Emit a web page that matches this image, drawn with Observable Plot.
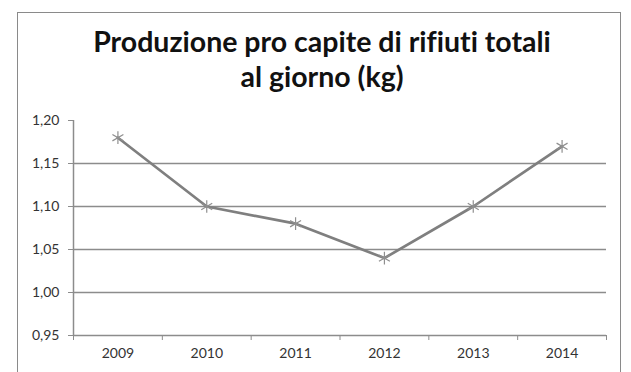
<!DOCTYPE html>
<html>
<head>
<meta charset="utf-8">
<script src="https://cdn.jsdelivr.net/npm/d3@7"></script>
<script src="https://cdn.jsdelivr.net/npm/@observablehq/plot@0.6"></script>
<style>
  html, body { margin: 0; padding: 0; background: #fff; }
  #wrap { position: relative; width: 631px; height: 372px; overflow: hidden; background: #fff; }
  #frame { position: absolute; left: 17px; top: 12px; width: 604px; height: 400px;
           border: 1px solid #8a8a8a; border-bottom: none; box-sizing: border-box; }
  #title { position: absolute; left: 0; top: 24px; width: 644px; text-align: center;
           font-family: Lato, "Open Sans", sans-serif; font-weight: 700; font-size: 28.5px;
           line-height: 35px; color: #111; font-variant-ligatures: none; }
  #chart { position: absolute; left: 0; top: 100px; }
</style>
</head>
<body>
<div id="wrap">
  <div id="frame"></div>
  <div id="title">Produzione pro capite di rifiuti totali<br>al giorno (kg)</div>
  <div id="chart"></div>
</div>
<script>
const years = [2009, 2010, 2011, 2012, 2013, 2014];
const values = [1.18, 1.10, 1.08, 1.04, 1.10, 1.17];
const yTicks = [0.95, 1.00, 1.05, 1.10, 1.15, 1.20];
const gridTicks = [1.00, 1.05, 1.10, 1.15];
const bandEdges = [2008.5, 2009.5, 2010.5, 2011.5, 2012.5, 2013.5, 2014.5];

const data = years.map((y, i) => ({year: y, value: values[i]}));
const fmt = d => d.toFixed(2).replace(".", ",");

const chart = Plot.plot({
  width: 631,
  height: 272,
  marginLeft: 73,
  marginRight: 25,
  marginTop: 20,
  marginBottom: 37,
  style: {fontFamily: "Lato, 'Open Sans', sans-serif", fontSize: "14px", color: "#333", background: "transparent"},
  x: {domain: [2008.5, 2014.5]},
  y: {domain: [0.95, 1.20]},
  marks: [
    Plot.gridY(gridTicks, {stroke: "#8c8c8c", strokeOpacity: 1, strokeWidth: 1.5}),
    Plot.ruleY([0.95], {stroke: "#8c8c8c", strokeWidth: 1.5}),
    Plot.ruleX([2008.5], {stroke: "#8c8c8c", strokeWidth: 1.5}),
    Plot.axisY({ticks: yTicks, tickFormat: fmt, tickSize: 5, tickPadding: 9, stroke: "#8c8c8c", label: null, fill: "#333"}),
    Plot.axisX({ticks: bandEdges, tickFormat: () => "", tickSize: 5, stroke: "#8c8c8c", label: null}),
    Plot.axisX({ticks: years, tickFormat: d => String(d), tickSize: 0, tickPadding: 13, label: null, fill: "#333"}),
    Plot.line(data, {x: "year", y: "value", stroke: "#7f7f7f", strokeWidth: 2.7}),
    Plot.dot(data, {x: "year", y: "value", symbol: "asterisk", r: 6, stroke: "#8f8f8f", strokeWidth: 1.2})
  ]
});
document.getElementById("chart").appendChild(chart);
</script>
</body>
</html>
